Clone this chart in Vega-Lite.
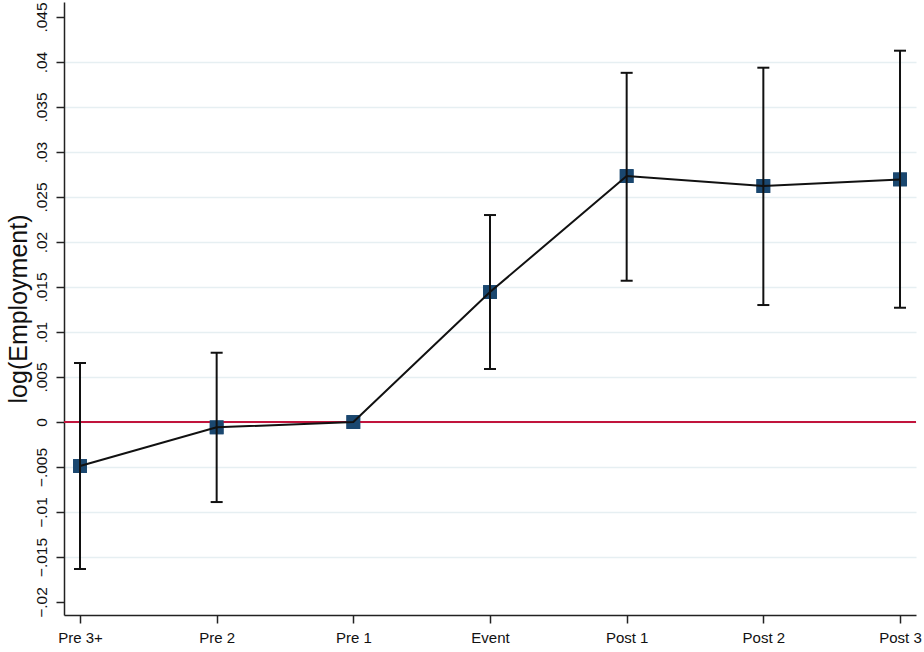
{
  "$schema": "https://vega.github.io/schema/vega-lite/v6.json",
  "autosize": "none",
  "width": 852,
  "height": 613,
  "padding": {"left": 64, "top": 2, "right": 8, "bottom": 37},
  "background": "white",
  "config": {
    "view": {"stroke": null},
    "font": "Liberation Sans"
  },
  "data": {
    "values": [
      {"period": "Pre 3+", "coef": -0.00489, "lo": -0.01633, "hi": 0.00656},
      {"period": "Pre 2", "coef": -0.00059, "lo": -0.00889, "hi": 0.0077},
      {"period": "Pre 1", "coef": 0, "lo": null, "hi": null},
      {"period": "Event", "coef": 0.01444, "lo": 0.00589, "hi": 0.023},
      {"period": "Post 1", "coef": 0.02733, "lo": 0.0157, "hi": 0.0388},
      {"period": "Post 2", "coef": 0.02622, "lo": 0.0130, "hi": 0.03937},
      {"period": "Post 3", "coef": 0.02696, "lo": 0.0127, "hi": 0.04126}
    ]
  },
  "layer": [
    {
      "mark": {"type": "square", "color": "#1a476f", "size": 190, "opacity": 1, "filled": true},
      "encoding": {
        "x": {
          "field": "period",
          "type": "ordinal",
          "sort": null,
          "scale": {"type": "point", "padding": 0.117},
          "axis": {
            "title": null,
            "labelAngle": 0,
            "labelFontSize": 15,
            "labelColor": "#111",
            "labelPadding": 7,
            "tickSize": 8,
            "tickColor": "#222",
            "tickWidth": 1.5,
            "domainColor": "#222",
            "domainWidth": 1.5,
            "grid": false
          }
        },
        "y": {
          "field": "coef",
          "type": "quantitative",
          "scale": {"domain": [-0.02144, 0.04667], "nice": false, "zero": false},
          "axis": {
            "title": "log(Employment)",
            "titleFontSize": 25,
            "titleFontWeight": "normal",
            "titleColor": "#111",
            "titlePadding": 3,
            "values": [-0.02, -0.015, -0.01, -0.005, 0, 0.005, 0.01, 0.015, 0.02, 0.025, 0.03, 0.035, 0.04, 0.045],
            "labelExpr": "datum.value == 0 ? '0' : replace(format(datum.value, '.3~f'), '0.', '.')",
            "labelAngle": -90,
            "labelAlign": "center",
            "labelBaseline": "bottom",
            "labelFontSize": 15.5,
            "labelColor": "#111",
            "labelPadding": 7,
            "tickSize": 8,
            "tickColor": "#222",
            "tickWidth": 1.5,
            "domainColor": "#222",
            "domainWidth": 1.5,
            "grid": true,
            "gridColor": "#e6eff2",
            "gridWidth": 1.5,
            "gridOpacity": {"condition": {"test": "datum.value > 0.044 || datum.value < -0.019", "value": 0}, "value": 1}
          }
        }
      }
    },
    {
      "mark": {"type": "rule", "color": "#c0143c", "strokeWidth": 1.6},
      "encoding": {"y": {"datum": 0}}
    },
    {
      "mark": {"type": "square", "color": "#1a476f", "size": 190, "opacity": 1, "filled": true},
      "encoding": {
        "x": {"field": "period", "type": "ordinal", "sort": null},
        "y": {"field": "coef", "type": "quantitative"}
      }
    },
    {
      "mark": {"type": "line", "color": "#111", "strokeWidth": 2},
      "encoding": {
        "x": {"field": "period", "type": "ordinal", "sort": null},
        "y": {"field": "coef", "type": "quantitative"}
      }
    },
    {
      "transform": [{"filter": "isValid(datum.lo)"}],
      "mark": {"type": "rule", "color": "#111", "strokeWidth": 2},
      "encoding": {
        "x": {"field": "period", "type": "ordinal", "sort": null},
        "y": {"field": "lo", "type": "quantitative"},
        "y2": {"field": "hi"}
      }
    },
    {
      "transform": [{"filter": "isValid(datum.lo)"}],
      "mark": {"type": "tick", "color": "#111", "size": 12, "thickness": 2, "opacity": 1},
      "encoding": {
        "x": {"field": "period", "type": "ordinal", "sort": null},
        "y": {"field": "lo", "type": "quantitative"}
      }
    },
    {
      "transform": [{"filter": "isValid(datum.hi)"}],
      "mark": {"type": "tick", "color": "#111", "size": 12, "thickness": 2, "opacity": 1},
      "encoding": {
        "x": {"field": "period", "type": "ordinal", "sort": null},
        "y": {"field": "hi", "type": "quantitative"}
      }
    }
  ]
}
